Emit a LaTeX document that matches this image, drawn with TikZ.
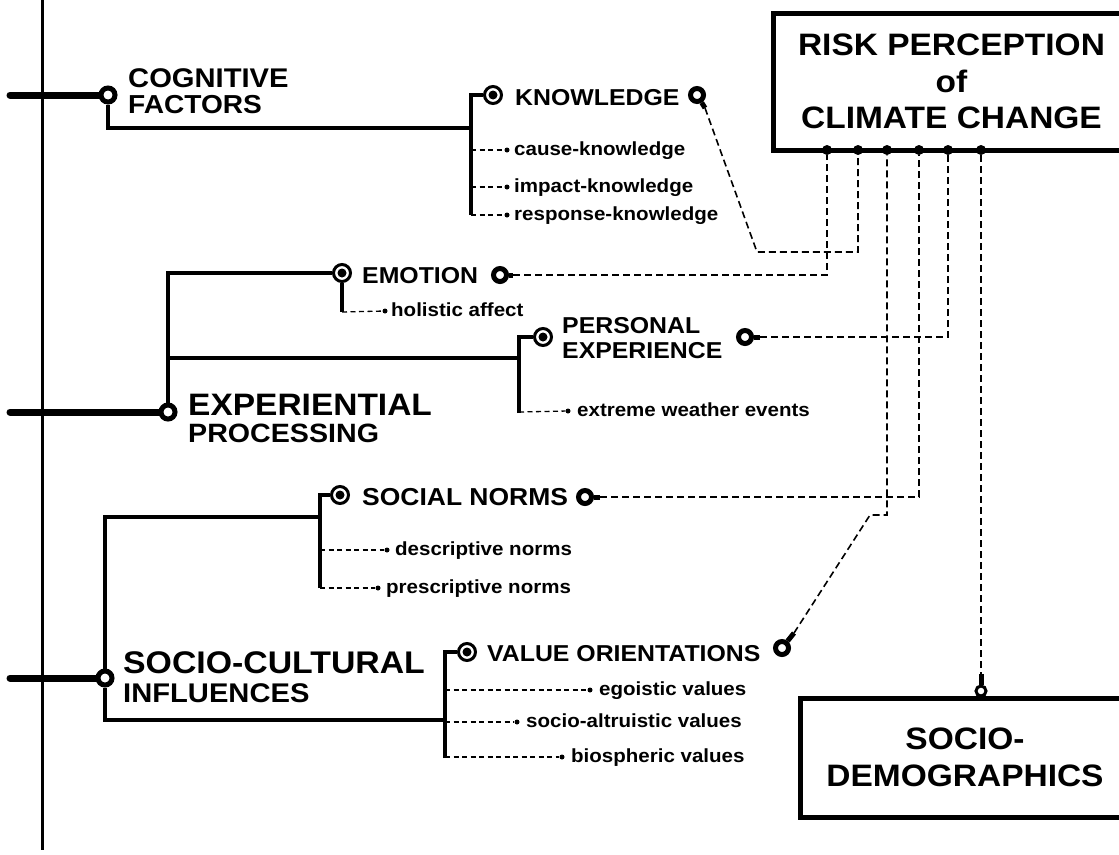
\documentclass[tikz,border=0pt]{standalone}
\usepackage{fontspec}
\setmainfont{Liberation Sans}[FakeStretch=1.08]
\usetikzlibrary{positioning,calc}

\newcommand{\fsz}[1]{\fontsize{#1}{#1}\selectfont\bfseries}

\tikzset{
  spine/.style={line width=3pt},
  stub/.style={line width=7pt, line cap=round},
  branch/.style={line width=3.5pt},
  tail/.style={line width=5pt},
  dashlink/.style={line width=1.6pt, dash pattern=on 7pt off 4pt},
  leaflink/.style={line width=1.3pt, dash pattern=on 5pt off 3.5pt},
  rootring/.style={circle, draw, line width=5pt, fill=white, minimum size=14pt, inner sep=0pt},
  factorring/.style={circle, draw, line width=3pt, fill=white, minimum size=17pt, inner sep=0pt},
  outring/.style={circle, draw, line width=5pt, fill=white, minimum size=13pt, inner sep=0pt},
  smallring/.style={circle, draw, line width=3pt, fill=white, minimum size=10pt, inner sep=0pt},
  leafdot/.style={circle, fill, minimum size=5pt, inner sep=0pt},
  boxdot/.style={circle, fill, minimum size=10pt, inner sep=0pt},
  headtext/.style={anchor=base west, inner sep=0pt},
  leaftext/.style={anchor=base west, inner sep=0pt, font=\fsz{19}},
  bigbox/.style={draw, line width=5pt, align=center, inner sep=0pt,
    font=\fontsize{31}{36.5}\selectfont\bfseries}
}

\begin{document}
\begin{tikzpicture}[x=1pt,y=-1pt]
\useasboundingbox (0,0) rectangle (1119,854);
\clip (0,0) rectangle (1119,854);

% outcome boxes
\node[bigbox, minimum width=357pt, minimum height=137pt] (risk) at (951.5,81.5) {RISK PERCEPTION\\of\\CLIMATE CHANGE};
\node[bigbox, minimum width=330pt, minimum height=119pt] (demo) at (965,757.5) {SOCIO-\\DEMOGRAPHICS};
\foreach \x [count=\n] in {827,858,887,919,948,981}
  \node[boxdot] (d\n) at (\x,150) {};

% main axis
\draw[spine] (42,0) -- (42,850);

% cognitive factors
\node[rootring] (cog) at (108,95) {};
\node[headtext, font=\fsz{27}] (cogA) at (128,87) {COGNITIVE};
\node[headtext, font=\fsz{26}] (cogB) at (128,113) {FACTORS};
\draw[stub] (10,95) -- (cog);
\coordinate (kb) at (471,128);
\coordinate (kt) at (471,95);
\coordinate (kend) at (471,215);
\draw[branch] (cog) |- (kb);
\node[factorring] (know) at (493,95) {};
\draw[branch] (kend) -- (kt) -- (know);
\node[headtext, font=\fsz{23}] (knowT) at (515,105) {KNOWLEDGE};
\node[outring] (knowO) at (697,95) {};
\coordinate (knowE) at (705,108);
\draw[tail] (knowO) -- (knowE);
\coordinate (kbend) at (757,252);
\draw[dashlink] (knowE) -- (kbend) -| (d2);
\foreach \t/\y [count=\n] in {cause-knowledge/150,impact-knowledge/187,response-knowledge/215}{
  \coordinate (ka\n) at (471,\y);
  \node[leafdot] (kd\n) at (507,\y) {};
  \node[leaftext] (kl\n) at (514,\y+5) {\t};
  \draw[leaflink] (ka\n) -- (kd\n);
}

% experiential processing
\node[rootring] (exp) at (168,412) {};
\node[headtext, font=\fsz{31}] (expA) at (188,415) {EXPERIENTIAL};
\node[headtext, font=\fsz{26.5}] (expB) at (188,442) {PROCESSING};
\draw[stub] (10,412) -- (exp);
\node[factorring] (emo) at (342,273) {};
\draw[branch] (exp) |- (emo);
\coordinate (eb) at (168,358);
\coordinate (pb) at (519,358);
\draw[branch] (eb) -- (pb);
\node[factorring] (pers) at (543,337) {};
\coordinate (pend) at (519,413);
\draw[branch] (pend) |- (pers);

\node[headtext, font=\fsz{23}] (emoT) at (362,283) {EMOTION};
\node[outring] (emoO) at (500,275) {};
\coordinate (emoE) at (513,275);
\draw[tail] (emoO) -- (emoE);
\draw[dashlink] (emoE) -| (d1);
\coordinate (ha) at (342,312);
\draw[branch] (emo) -- (ha);
\node[leafdot] (hd) at (385,311) {};
\node[leaftext] (hl) at (391,316) {holistic affect};
\draw[leaflink] (ha) -- (hd);

\node[headtext, font=\fsz{23}] (persA) at (562,333) {PERSONAL};
\node[headtext, font=\fsz{23}] (persB) at (562,358) {EXPERIENCE};
\node[outring] (persO) at (745,337) {};
\coordinate (persE) at (760,337);
\draw[tail] (persO) -- (persE);
\draw[dashlink] (persE) -| (d5);
\coordinate (xa) at (519,412);
\node[leafdot] (xd) at (568,411) {};
\node[leaftext] (xl) at (577,416) {extreme weather events};
\draw[leaflink] (xa) -- (xd);

% socio-cultural influences
\node[rootring] (soc) at (105,678) {};
\node[headtext, font=\fsz{31.3}] (socA) at (123,673) {SOCIO-CULTURAL};
\node[headtext, font=\fsz{27}] (socB) at (123,702) {INFLUENCES};
\draw[stub] (10,678) -- (soc);
\node[factorring] (norm) at (340,495) {};
\coordinate (nb) at (320,517);
\coordinate (nend) at (320,588);
\draw[branch] (soc) |- (nb);
\draw[branch] (nend) |- (norm);
\node[factorring] (val) at (467,652) {};
\coordinate (vb) at (445,720);
\coordinate (vend) at (445,758);
\draw[branch] (soc) |- (vb);
\draw[branch] (vend) |- (val);

\node[headtext, font=\fsz{24.5}] (normT) at (362,505) {SOCIAL NORMS};
\node[outring] (normO) at (585,497) {};
\coordinate (normE) at (600,497);
\draw[tail] (normO) -- (normE);
\draw[dashlink] (normE) -| (d4);
\foreach \t/\x/\y [count=\n] in {descriptive norms/387/550,prescriptive norms/378/588}{
  \coordinate (na\n) at (320,\y);
  \node[leafdot] (nd\n) at (\x,\y) {};
  \node[leaftext] (nl\n) at (\x+8,\y+5) {\t};
  \draw[leaflink] (na\n) -- (nd\n);
}

\node[headtext, font=\fsz{23}] (valT) at (487,661) {VALUE ORIENTATIONS};
\node[outring] (valO) at (782,648) {};
\coordinate (valE) at (794,633);
\draw[tail] (valO) -- (valE);
\coordinate (vbend) at (870,515);
\draw[dashlink] (valE) -- (vbend) -| (d3);
\foreach \t/\x/\y [count=\n] in {egoistic values/590/690,socio-altruistic values/517/722,biospheric values/562/757}{
  \coordinate (va\n) at (445,\y);
  \node[leafdot] (vd\n) at (\x,\y) {};
  \node[leaftext] (vl\n) at (\x+9,\y+5) {\t};
  \draw[leaflink] (va\n) -- (vd\n);
}

% bull's-eye centres of the factor rings
\foreach \r in {know,emo,pers,norm,val}
  \fill (\r.center) circle (4.5pt);

% socio-demographics link
\node[smallring] (demoR) at (981,691) {};
\coordinate (demoS) at (981,674);
\draw[tail] (demoS) -- (demoR);
\draw[dashlink] (d6) -- (demoS);
\end{tikzpicture}
\end{document}
